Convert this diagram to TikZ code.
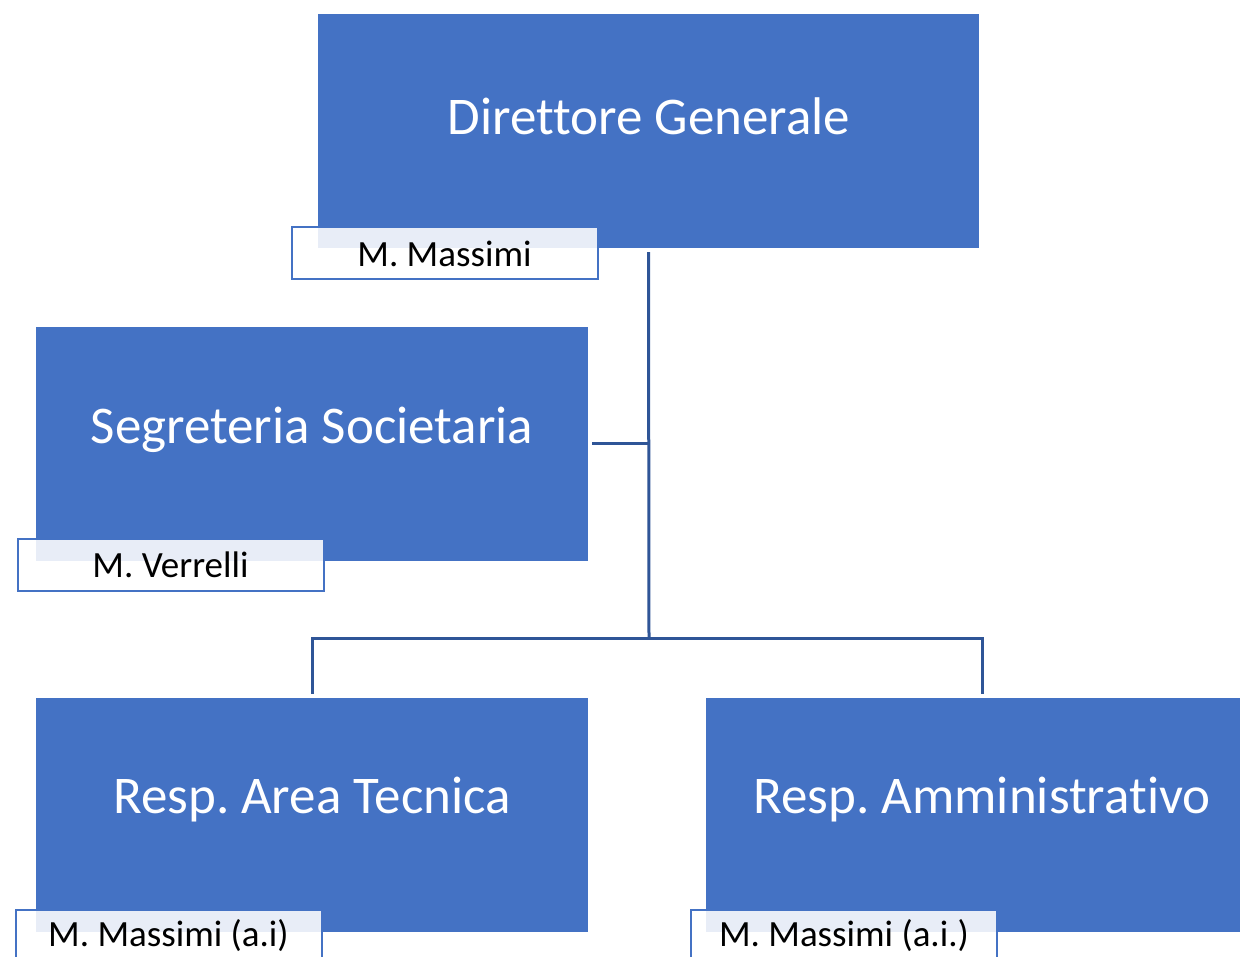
\documentclass[tikz,border=0pt]{standalone}
\usepackage{fontspec}
\setmainfont[Ligatures={NoCommon}]{Carlito}
\frenchspacing
\definecolor{boxblue}{HTML}{4472C4}
\definecolor{lineblue}{HTML}{2F5597}
\tikzset{
  orgbox/.style={rectangle, fill=boxblue, draw=none, minimum width=552pt, minimum height=234pt, inner sep=0pt},
  titletext/.style={text=white, font=\fontsize{53}{60}\selectfont, inner sep=0pt},
  namebox/.style={rectangle, draw=boxblue, line width=2pt, fill=white, fill opacity=0.88, text opacity=1,
    minimum width=306pt, minimum height=52pt, inner sep=0pt, font=\fontsize{37}{44}\selectfont, text=black},
  conn/.style={draw=lineblue, line width=3pt}
}
\begin{document}
\begin{tikzpicture}[x=1pt,y=-1pt]
\useasboundingbox (0,0) rectangle (1240,957);
% boxes
\node[orgbox, minimum width=661pt] (dg) at (648.5,131) {};
\node[titletext] (dgt) at (649,116) {Direttore Generale};
\node[namebox] (dgn) at (444.5,253.5) {M. Massimi};

\node[orgbox] (seg) at (312,444) {};
\node[titletext] (segt) at (312,430) {Segreteria Societaria};
\node[namebox] (segn) at (170.5,565) {M. Verrelli};

\node[orgbox] (tec) at (312,815) {};
\node[titletext] (tect) at (312,800) {Resp. Area Tecnica};
\node[namebox] (tecn) at (168.5,936) {M. Massimi (a.i)};

\node[orgbox] (amm) at (982,815) {};
\node[titletext] (ammt) at (982,800) {Resp. Amministrativo};
\node[namebox] (ammn) at (844,936) {M. Massimi (a.i.)};

% connectors
\coordinate (j1) at (649,444);
\coordinate (j2) at (649,638);
\draw[conn] ([yshift=-4pt]dg.south) -- (j2);
\draw[conn] (j1) -- ([xshift=4pt]seg.east);
\draw[conn] (j2) -| ([yshift=4pt]tec.north);
\draw[conn] (j2) -| ([yshift=4pt]amm.north);
\end{tikzpicture}
\end{document}
